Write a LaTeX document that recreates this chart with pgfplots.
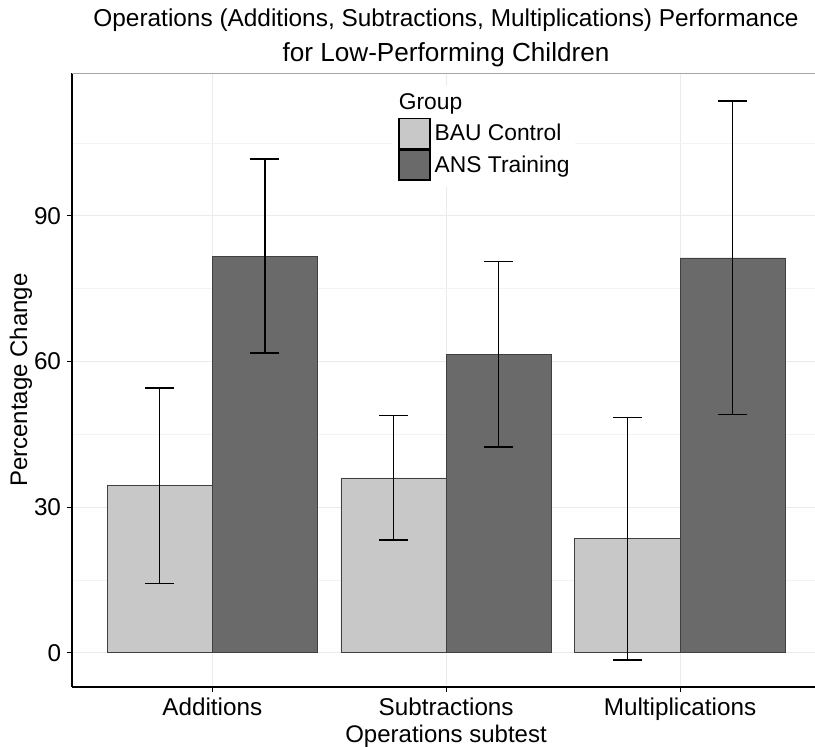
\documentclass[border=0pt]{standalone}
\usepackage{fontspec}
\setmainfont{Liberation Sans}
\usepackage{pgfplots}
\pgfplotsset{compat=1.18}
\definecolor{bau}{HTML}{C8C8C8}
\definecolor{ans}{HTML}{6A6A6A}
\definecolor{gridc}{HTML}{EBEBEB}
\definecolor{gridm}{HTML}{F3F3F3}
\pgfplotsset{sqlegend/.style={legend image code/.code={\draw[##1, draw=black, line width=1.1pt] (0pt,-11.25pt) rectangle (23.25pt,11.25pt);}}}
\begin{document}
\begin{tikzpicture}
\begin{axis}[
  at={(54pt,45pt)}, anchor=south west,
  width=557.25pt, height=460.5pt, scale only axis,
  xmin=-0.6, xmax=2.577, ymin=-7.06, ymax=119.4,
  axis lines=left, axis line style={-, line width=1.5pt, black},
  xtick={0,1,2}, xticklabels={Additions,Subtractions,Multiplications},
  ytick={0,30,60,90}, minor ytick={15,45,75,105},
  tick align=outside, major tick length=3.75pt, minor tick length=0pt,
  tick style={black, line width=0.8pt},
  xmajorgrids, ymajorgrids, yminorgrids,
  major grid style={gridc, line width=0.8pt},
  minor grid style={gridm, line width=0.5pt},
  /pgf/number format/assume math mode=true,
  ticklabel style={font=\fontsize{18.2}{20}\selectfont},
  yticklabel style={anchor=east, inner sep=0pt, xshift=-4.3pt},
  xticklabel style={anchor=north, inner sep=0pt, yshift=-4.5pt},
  ylabel={Percentage Change},
  ylabel style={at={(axis description cs:-0.0686,0.5)}, anchor=center, font=\fontsize{18}{20}\selectfont},
  xlabel={Operations subtest},
  xlabel style={at={(axis description cs:0.5034,-0.0896)}, anchor=base, font=\fontsize{18}{20}\selectfont},
  title={{\fontsize{18.3}{26.25}\selectfont Operations (Additions, Subtractions, Multiplications) Performance}\\{\fontsize{19.6}{26.25}\selectfont for Low-Performing Children}},
  title style={at={(axis description cs:0.5034,0.9964)}, anchor=south, yshift=0pt, align=center, inner sep=0pt, font=\fontsize{18.3}{26.25}\selectfont},
  extra description/.code={\draw[gray!70, line width=0.6pt] (rel axis cs:0,1) -- (rel axis cs:1,1);},
  legend style={at={(axis description cs:0.4307,0.9788)}, anchor=north west, fill=white, draw=none,
    inner xsep=4.5pt, inner ysep=4.5pt, row sep=0pt, cells={anchor=west}, nodes={inner sep=0pt},
    font=\fontsize{17.1}{20}\selectfont, /tikz/every odd column/.append style={column sep=3pt}},
  legend cell align=left,
]
\addlegendimage{legend image code/.code={\path[draw=none, fill=none] (0pt,-11.2pt) rectangle (0.1pt,8pt);}}
\addlegendentry{\hspace{-26.9pt}Group}
\addplot[ybar, bar width=0.45, bar shift=0pt, fill=bau, draw=black!75, line width=0.6pt, sqlegend,
  error bars/.cd, y dir=both, y explicit, error mark=|, error bar style={black, line width=1pt},
  error mark options={black, line width=1pt, mark size=10.9pt}]
  coordinates {(-0.225,34.4) +- (0,20.1) (0.775,36.0) +- (0,12.8) (1.775,23.5) +- (0,25.0)};
\addlegendentry{BAU Control}
\addplot[ybar, bar width=0.45, bar shift=0pt, fill=ans, draw=black!75, line width=0.6pt, sqlegend,
  error bars/.cd, y dir=both, y explicit, error mark=|, error bar style={black, line width=1pt},
  error mark options={black, line width=1pt, mark size=10.9pt}]
  coordinates {(0.225,81.7) +- (0,20.0) (1.225,61.5) +- (0,19.1) (2.225,81.3) +- (0,32.3)};
\addlegendentry{ANS Training}
\end{axis}
\pgfresetboundingbox
\useasboundingbox (0,0) rectangle (611.25pt,560.25pt);
\end{tikzpicture}
\end{document}
